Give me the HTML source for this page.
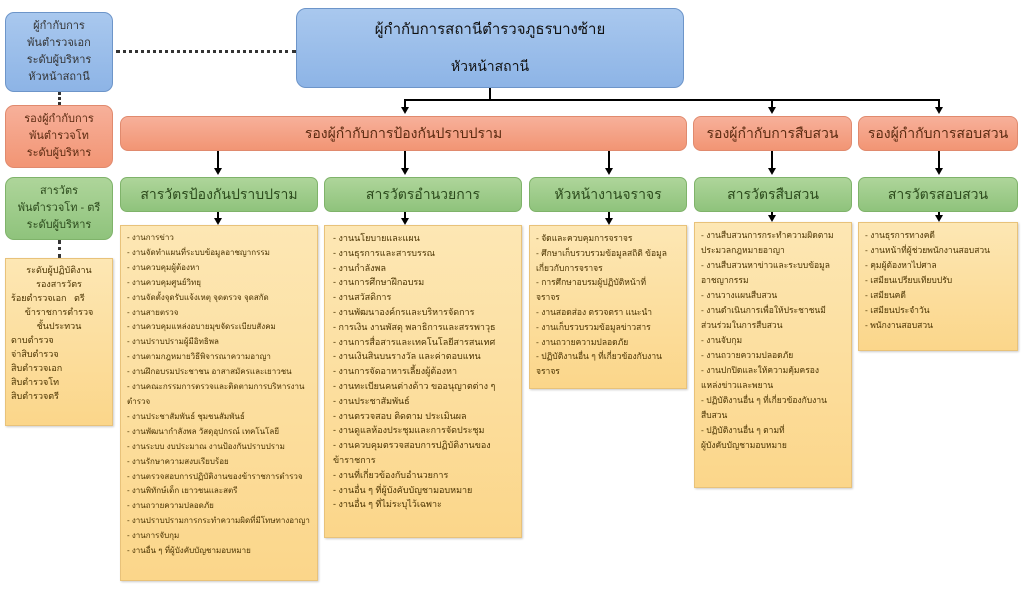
<!DOCTYPE html>
<html><head><meta charset="utf-8">
<style>
*{margin:0;padding:0;box-sizing:border-box}
body{width:1024px;height:606px;background:#fff;position:relative;overflow:hidden;font-family:"Liberation Sans","Noto Sans CJK SC",sans-serif;color:#5a3a00}
.b{position:absolute;border-radius:9px;display:flex;align-items:center;justify-content:center;text-align:center}
.blue{background:linear-gradient(#a9c8ee,#8db4e6);border:1px solid #6d95c9;color:#111}
.sal{background:linear-gradient(#f7b09a,#f29574);border:1px solid #e08a6e;color:#5a2a10}
.grn{background:linear-gradient(#aed59a,#8fc37c);border:1px solid #7fb36a;color:#2c4a1c}
.yel{position:absolute;background:linear-gradient(#fde7b4,#fbd68a);border:1px solid #e8c27a;font-size:9px;line-height:14.3px;padding:5px 8px;color:#4a3300;box-shadow:1px 1px 2px #ccc;white-space:nowrap;overflow:hidden}
.v{position:absolute;width:2px;background:#000}
.ar{position:absolute;width:0;height:0;border-left:4px solid transparent;border-right:4px solid transparent;border-top:7px solid #000}
.dv{position:absolute;border-left:3px dotted #333;width:0}
</style></head><body>
<div class="b blue" style="left:5px;top:12px;width:108px;height:80px;font-size:11px;line-height:17px;color:#333">ผู้กำกับการ<br>พันตำรวจเอก<br>ระดับผู้บริหาร<br>หัวหน้าสถานี</div>
<div class="dv" style="left:58px;top:92px;height:13px"></div>
<div class="b sal" style="left:5px;top:105px;width:108px;height:63px;font-size:11px;line-height:17px">รองผู้กำกับการ<br>พันตำรวจโท<br>ระดับผู้บริหาร</div>
<div class="b grn" style="left:5px;top:177px;width:108px;height:63px;font-size:11px;line-height:17px">สารวัตร<br>พันตำรวจโท - ตรี<br>ระดับผู้บริหาร</div>
<div class="dv" style="left:58px;top:240px;height:18px"></div>
<div class="yel" style="left:5px;top:258px;width:108px;height:168px;font-size:9px;line-height:14px;padding:4px 5px">
<div style="text-align:center">ระดับผู้ปฏิบัติงาน<br>รองสารวัตร</div>ร้อยตำรวจเอก &nbsp; ตรี<div style="text-align:center">ข้าราชการตำรวจ<br>ชั้นประทวน</div>ดาบตำรวจ<br>จ่าสิบตำรวจ<br>สิบตำรวจเอก<br>สิบตำรวจโท<br>สิบตำรวจตรี</div>
<div style="position:absolute;left:116px;top:50px;width:180px;border-top:3px dotted #333"></div>
<div class="b blue" style="left:296px;top:8px;width:388px;height:80px;border-radius:10px"><div style="font-size:15px;line-height:36px">ผู้กำกับการสถานีตำรวจภูธรบางซ้าย<br><span style="font-size:14px">หัวหน้าสถานี</span></div></div>
<div class="v" style="left:489px;top:88px;height:12px"></div>
<div style="position:absolute;left:404px;top:99px;width:536px;height:2px;background:#000"></div>
<div class="v" style="left:404px;top:100px;height:8px"></div><div class="ar" style="left:401px;top:107px"></div>
<div class="v" style="left:771px;top:100px;height:8px"></div><div class="ar" style="left:768px;top:107px"></div>
<div class="v" style="left:938px;top:100px;height:8px"></div><div class="ar" style="left:935px;top:107px"></div>
<div class="b sal" style="left:120px;top:116px;width:567px;height:35px;font-size:14px;border-radius:8px">รองผู้กำกับการป้องกันปราบปราม</div>
<div class="b sal" style="left:693px;top:116px;width:159px;height:35px;font-size:14px;border-radius:8px">รองผู้กำกับการสืบสวน</div>
<div class="b sal" style="left:858px;top:116px;width:160px;height:35px;font-size:14px;border-radius:8px">รองผู้กำกับการสอบสวน</div>
<div class="v" style="left:217px;top:151px;height:18px"></div><div class="ar" style="left:214px;top:168px"></div>
<div class="v" style="left:404px;top:151px;height:18px"></div><div class="ar" style="left:401px;top:168px"></div>
<div class="v" style="left:608px;top:151px;height:18px"></div><div class="ar" style="left:605px;top:168px"></div>
<div class="v" style="left:771px;top:151px;height:18px"></div><div class="ar" style="left:768px;top:168px"></div>
<div class="v" style="left:938px;top:151px;height:18px"></div><div class="ar" style="left:935px;top:168px"></div>
<div class="b grn" style="left:120px;top:177px;width:198px;height:35px;font-size:14px;border-radius:7px">สารวัตรป้องกันปราบปราม</div>
<div class="b grn" style="left:324px;top:177px;width:198px;height:35px;font-size:14px;border-radius:7px">สารวัตรอำนวยการ</div>
<div class="b grn" style="left:529px;top:177px;width:158px;height:35px;font-size:14px;border-radius:7px">หัวหน้างานจราจร</div>
<div class="b grn" style="left:694px;top:177px;width:158px;height:35px;font-size:14px;border-radius:7px">สารวัตรสืบสวน</div>
<div class="b grn" style="left:858px;top:177px;width:160px;height:35px;font-size:14px;border-radius:7px">สารวัตรสอบสวน</div>
<div class="v" style="left:217px;top:212px;height:8px"></div><div class="ar" style="left:214px;top:218px"></div>
<div class="v" style="left:404px;top:212px;height:8px"></div><div class="ar" style="left:401px;top:218px"></div>
<div class="v" style="left:608px;top:212px;height:8px"></div><div class="ar" style="left:605px;top:218px"></div>
<div class="v" style="left:771px;top:212px;height:6px"></div><div class="ar" style="left:768px;top:215px"></div>
<div class="v" style="left:938px;top:212px;height:6px"></div><div class="ar" style="left:935px;top:215px"></div>
<div class="yel" style="left:120px;top:225px;width:198px;height:356px;font-size:8px;line-height:14.9px;padding:5px 6px">
- งานการข่าว<br>- งานจัดทำแผนที่ระบบข้อมูลอาชญากรรม<br>- งานควบคุมผู้ต้องหา<br>- งานควบคุมศูนย์วิทยุ<br>- งานจัดตั้งจุดรับแจ้งเหตุ จุดตรวจ จุดสกัด<br>- งานสายตรวจ<br>- งานควบคุมแหล่งอบายมุขจัดระเบียบสังคม<br>- งานปราบปรามผู้มีอิทธิพล<br>- งานตามกฎหมายวิธีพิจารณาความอาญา<br>- งานฝึกอบรมประชาชน อาสาสมัครและเยาวชน<br>- งานคณะกรรมการตรวจและติดตามการบริหารงาน<br>ตำรวจ<br>- งานประชาสัมพันธ์ ชุมชนสัมพันธ์<br>- งานพัฒนากำลังพล วัสดุอุปกรณ์ เทคโนโลยี<br>- งานระบบ งบประมาณ งานป้องกันปราบปราม<br>- งานรักษาความสงบเรียบร้อย<br>- งานตรวจสอบการปฏิบัติงานของข้าราชการตำรวจ<br>- งานพิทักษ์เด็ก เยาวชนและสตรี<br>- งานถวายความปลอดภัย<br>- งานปราบปรามการกระทำความผิดที่มีโทษทางอาญา<br>- งานการจับกุม<br>- งานอื่น ๆ ที่ผู้บังคับบัญชามอบหมาย</div>
<div class="yel" style="left:324px;top:225px;width:198px;height:313px;font-size:9px;line-height:14.8px">
- งานนโยบายและแผน<br>- งานธุรการและสารบรรณ<br>- งานกำลังพล<br>- งานการศึกษาฝึกอบรม<br>- งานสวัสดิการ<br>- งานพัฒนาองค์กรและบริหารจัดการ<br>- การเงิน งานพัสดุ พลาธิการและสรรพาวุธ<br>- งานการสื่อสารและเทคโนโลยีสารสนเทศ<br>- งานเงินสินบนรางวัล และค่าตอบแทน<br>- งานการจัดอาหารเลี้ยงผู้ต้องหา<br>- งานทะเบียนคนต่างด้าว ขออนุญาตต่าง ๆ<br>- งานประชาสัมพันธ์<br>- งานตรวจสอบ ติดตาม ประเมินผล<br>- งานดูแลห้องประชุมและการจัดประชุม<br>- งานควบคุมตรวจสอบการปฏิบัติงานของ<br>ข้าราชการ<br>- งานที่เกี่ยวข้องกับอำนวยการ<br>- งานอื่น ๆ ที่ผู้บังคับบัญชามอบหมาย<br>- งานอื่น ๆ ที่ไม่ระบุไว้เฉพาะ</div>
<div class="yel" style="left:529px;top:225px;width:158px;height:164px;font-size:8.5px;line-height:14.8px;padding:5px 6px">
- จัดและควบคุมการจราจร<br>- ศึกษาเก็บรวบรวมข้อมูลสถิติ ข้อมูล<br>เกี่ยวกับการจราจร<br>- การศึกษาอบรมผู้ปฏิบัติหน้าที่<br>จราจร<br>- งานสอดส่อง ตรวจตรา แนะนำ<br>- งานเก็บรวบรวมข้อมูลข่าวสาร<br>- งานถวายความปลอดภัย<br>- ปฏิบัติงานอื่น ๆ ที่เกี่ยวข้องกับงาน<br>จราจร</div>
<div class="yel" style="left:694px;top:222px;width:158px;height:266px;font-size:8.5px;line-height:15px;padding:5px 6px">
- งานสืบสวนการกระทำความผิดตาม<br>ประมวลกฎหมายอาญา<br>- งานสืบสวนหาข่าวและระบบข้อมูล<br>อาชญากรรม<br>- งานวางแผนสืบสวน<br>- งานดำเนินการเพื่อให้ประชาชนมี<br>ส่วนร่วมในการสืบสวน<br>- งานจับกุม<br>- งานถวายความปลอดภัย<br>- งานปกปิดและให้ความคุ้มครอง<br>แหล่งข่าวและพยาน<br>- ปฏิบัติงานอื่น ๆ ที่เกี่ยวข้องกับงาน<br>สืบสวน<br>- ปฏิบัติงานอื่น ๆ ตามที่<br>ผู้บังคับบัญชามอบหมาย</div>
<div class="yel" style="left:858px;top:222px;width:160px;height:129px;font-size:8.5px;line-height:15px;padding:5px 6px">
- งานธุรการทางคดี<br>- งานหน้าที่ผู้ช่วยพนักงานสอบสวน<br>- คุมผู้ต้องหาไปศาล<br>- เสมียนเปรียบเทียบปรับ<br>- เสมียนคดี<br>- เสมียนประจำวัน<br>- พนักงานสอบสวน</div>
</body></html>
